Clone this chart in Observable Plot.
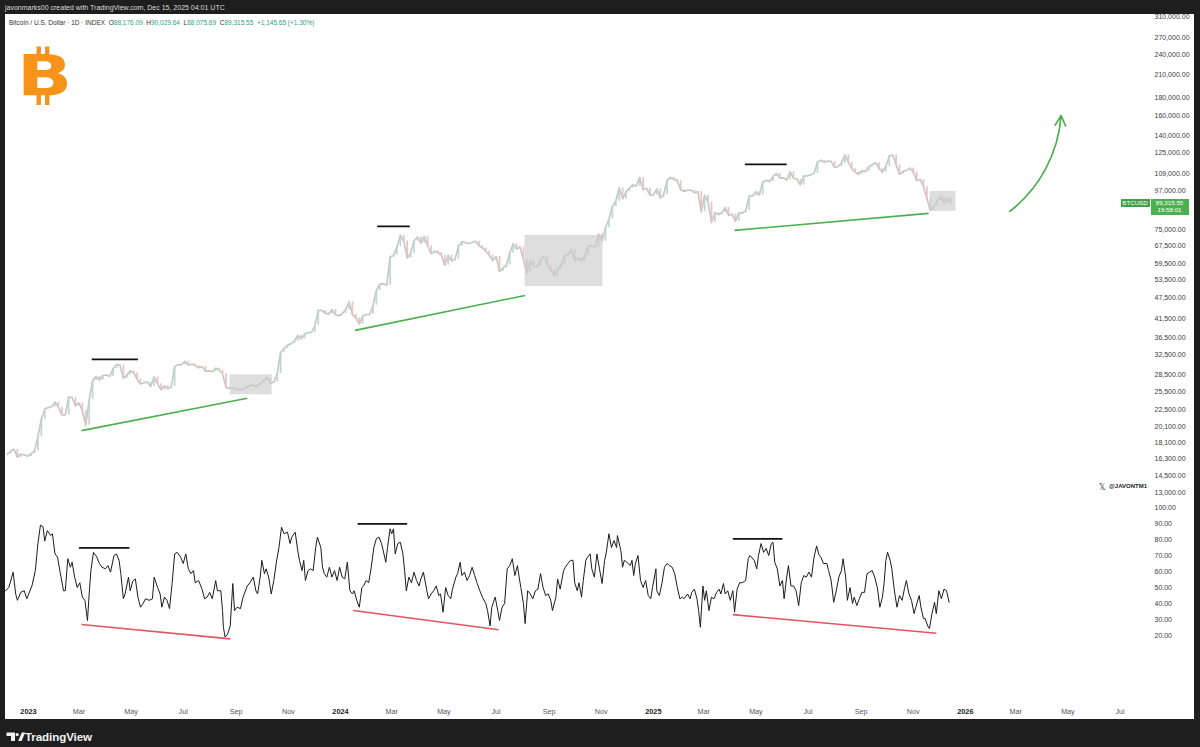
<!DOCTYPE html>
<html><head><meta charset="utf-8">
<script src="https://cdn.jsdelivr.net/npm/d3@7"></script>
<script src="https://cdn.jsdelivr.net/npm/@observablehq/plot@0.6"></script>
<style>
html,body{margin:0;padding:0;background:#1e1e1e;}
#frame{position:relative;width:1200px;height:747px;overflow:hidden;background:#1e1e1e;font-family:"Liberation Sans",Arial,sans-serif;}
#paper{position:absolute;left:5px;top:14px;width:1189px;height:705px;background:#fff;}
#topbar{position:absolute;left:5px;top:3px;font-size:7px;line-height:10px;color:#dcdcdc;white-space:nowrap;}
#legend{position:absolute;left:9px;top:18px;font-size:6.5px;line-height:9px;color:#333;white-space:nowrap;}
#legend .g{color:#2e9e84;}
#pricePane,#rsiPane{position:absolute;left:5px;}
#pricePane{top:14px;} #rsiPane{top:500px;}
.tag{position:absolute;color:#fff;font-size:6.2px;line-height:7.6px;text-align:center;white-space:nowrap;}
#handle{position:absolute;left:1109px;top:483px;font-size:6px;font-weight:bold;color:#222;white-space:nowrap;}
#footer{position:absolute;left:25px;top:730px;font-size:11.6px;font-weight:600;color:#f2f2f2;letter-spacing:-0.1px;}
#overlay{position:absolute;left:0;top:0;}
</style></head><body>
<div id="frame">
  <div id="paper"></div>
  <div id="topbar">javonmarks00 created with TradingView.com, Dec 15, 2025 04:01 UTC</div>
  <div id="pricePane"></div>
  <div id="rsiPane"></div>
  <div id="legend"></div>
  <div id="handle"></div>
  <div id="footer">TradingView</div>
  <svg id="overlay" width="1200" height="747"></svg>
</div>
<script>
// ---------- DATA ----------
// daily close sampled every 4 days, starting 2022-12-07
const closeStartDate = "2022-12-07";
const closeStepDays = 4;
const closes = [
16800,17100,17350,16440,16780,16700,16540,16850,17120,18850,
21180,22670,22920,23030,23730,22940,21800,21780,24570,24450,
23150,23640,22430,20360,24110,27420,28170,27490,28350,28460,
28170,29670,30490,30390,27820,28420,29250,28850,27690,26800,
27030,27120,26330,28070,26820,25760,26480,25930,26340,30090,
30480,30450,31160,30350,30620,30290,29860,30080,29180,29230,
29070,29760,29410,28700,26190,26050,26100,25870,25780,25830,
26230,26530,26580,26300,26910,27430,27950,26870,27160,28720,
33090,33920,34670,35070,35640,37060,36160,37360,37720,37820,
39470,43780,43720,43020,42660,43990,42520,42140,42850,43960,
46360,42510,41620,39880,42120,42580,42580,45290,49960,52120,
52280,51730,62430,63110,66850,72120,69460,61990,64040,69460,
71330,68500,71630,67200,63790,64940,64280,63110,59120,63160,
60790,61580,67040,69170,68520,68360,68810,69310,67320,66200,
64960,63180,60860,62680,56660,58050,59200,64100,68160,65780,
66800,61410,56030,60880,58730,58430,61180,62860,59050,57480,
54840,57650,59160,62950,63330,65790,60840,62060,60650,62850,
67420,67380,66640,72720,69370,75860,80470,87250,90540,98920,
91930,96410,98770,101150,100030,106140,97760,98670,94280,94420,
98320,92490,94520,104080,106150,104710,103730,97690,96610,97430,
97500,95770,96550,84350,94220,89960,78530,84000,82720,83830,
86900,82390,83150,79140,83760,83640,85070,93700,93750,96500,
94300,102970,104100,103200,106800,108900,105600,105800,104300,110200,
105500,104800,100900,107300,107100,108000,108900,117400,119000,117300,
118300,118000,113300,114100,116500,123300,117500,112500,110100,108400,
111200,110200,113900,115300,117100,112700,109700,114100,122300,123300,
115200,108200,110500,111000,112900,110100,103900,104700,99700,92200,
85100,87400,90800,93500,89400,92500,89316
];

// RSI(14): [days since 2023-01-01, value]
const rsiEpoch = "2023-01-01";
const rsiSamples = [
[-27,48],[-23,50],[-18,59.6],[-15,46],[-13,42],[-9,47],[-5,48],[-2,43],[4,51],[8,60.6],[11,77.5],[14,89],[17,88],[19,79],[22,85.6],[26,82.5],[28,83.6],[31,71],[34,69],[37,59.6],[41,48],[43,48],[46,68],[49,62.7],[51,65.8],[54,56.5],[57,50],[60,53],[63,44],[66,42],[69,29.4],[71,46],[73,60.6],[76,72],[80,69],[83,65],[86,62.7],[90,61.7],[93,63.7],[96,59.6],[100,70],[103,71],[106,67],[108,58.7],[111,43],[113,46],[117,56.5],[119,48],[122,54],[125,55.4],[128,44],[131,37.7],[134,40],[137,43],[141,42],[145,43],[147,56.5],[151,50],[154,46],[156,37.7],[159,44],[162,42],[165,36.8],[168,52.5],[171,71],[174,72],[178,69],[181,65],[184,71],[187,61.7],[190,58.7],[193,60.6],[195,53],[199,54.4],[203,49],[206,43],[209,44],[212,47],[215,43],[219,54.4],[221,48],[225,48],[227,35.6],[228,25.2],[230,19],[233,21],[236,26],[239,52.5],[241,35.6],[244,37.7],[248,36.8],[251,44],[256,51],[259,53],
[263,56.5],[266,48],[268,46],[271,56.5],[273,67],[276,58.7],[278,61.7],[281,56.5],[284,46],[287,54.4],[290,65.8],[293,75],[296,87.7],[299,83.6],[303,84.6],[306,77.5],[308,81.5],[312,84.6],[315,73],[317,67],[320,60.6],[322,67],[324,54.4],[327,60.6],[330,61.7],[333,60.6],[336,75],[338,81.5],[342,75],[344,62.7],[346,58.7],[349,56.5],[352,62.7],[355,56.5],[358,60.6],[361,54.4],[364,62.7],[367,56.5],[370,55.4],[373,65.8],[376,48],[379,46],[381,48],[384,42],[387,37.7],[390,50],[392,51],[395,54.4],[398,53],[401,62.7],[404,75],[407,80.6],[410,81.5],[413,77.5],[415,73],[418,65.8],[420,75],[423,86.7],[425,83.6],[427,86.7],[429,71],[432,77.5],[435,78.3],[438,71],[440,60.6],[442,48],[445,56.5],[448,53],[451,59.6],[454,54.4],[457,51],[459,55.4],[462,59.6],[466,48],[468,43],[471,46],[474,48],[477,51],[480,45],[482,46],[485,34.6],[488,50],[491,45],[494,43],[496,49],[500,56.5],[502,58.7],[505,65.8],[507,57.5],[510,59.6],[513,54.4],[516,57.5],[519,62.7],[522,57.5],[525,52.5],[528,48],[531,44],[535,40],[537,35.6],[540,26],[542,37.7],[546,44],[549,35.6],[551,29.4],
[554,37.7],[557,40],[560,61.7],[563,63.7],[566,68],[569,57.5],[572,63.7],[574,56.5],[576,50],[579,40],[581,27.5],[584,48],[587,46],[590,43],[593,48],[596,49],[599,58.7],[602,50],[605,45],[608,46],[611,42],[613,35.6],[617,44],[619,55.4],[622,49],[626,60.6],[628,62.7],[631,65],[634,67],[637,67],[639,53],[642,48],[644,53],[647,44],[649,54.4],[652,67],[654,69],[657,71],[659,61.7],[662,56.5],[665,71],[668,61.7],[671,52.5],[674,67],[676,72],[679,83.6],[682,75],[685,79.4],[688,75],[689,82.5],[693,73],[695,62.7],[697,67],[700,65.8],[704,63.7],[706,67],[708,57.5],[710,65],[713,70],[716,54.4],[719,50],[722,54.4],[725,45],[728,43],[730,50],[734,61.7],[735,48],[738,45],[741,52.5],[744,62.7],[747,65],[750,63.7],[753,62.7],[756,58.7],[759,50],[762,43],[765,44],[767,43],[771,46],[774,43],[776,47],[779,49],[782,43],[784,35.6],[786,25.2],[789,51],[791,42],[793,48],[796,35.6],[799,44],[802,43],[805,47],[808,49],[810,46],[813,52.5],[815,46],[818,48],[821,42],[824,48],[826,34.6],[829,49],[832,53],[835,53],[839,54.4],[842,68],[844,70],
[849,67],[852,61.7],[854,70],[857,77.5],[860,72],[863,74.4],[866,70],[869,77.5],[871,78.3],[873,65.8],[876,61.7],[879,51],[882,54.4],[884,43],[887,56.5],[889,63.7],[892,51],[895,51],[898,48],[901,38.7],[904,53],[907,57.5],[910,56.5],[913,59.6],[916,56.5],[919,69],[922,76],[925,70],[927,69],[930,65],[934,65],[936,60.6],[939,54.4],[942,40.8],[945,48],[948,56.5],[951,60.6],[953,68],[956,56.5],[958,42],[961,50],[964,40],[966,44],[969,38.7],[972,43],[975,47],[978,47],[981,58.7],[984,59.6],[987,60.6],[990,56.5],[993,50],[996,37.7],[999,44],[1001,53],[1003,67],[1005,72],[1008,67],[1010,61.7],[1013,48],[1016,37.7],[1019,45],[1022,42],[1025,50],[1027,54.4],[1030,46],[1033,42],[1036,33.7],[1038,37.7],[1042,45],[1044,37.7],[1047,30.6],[1049,30.6],[1052,26],[1054,24.4],[1057,33.7],[1060,40.8],[1062,33.7],[1065,48],[1068,43],[1071,49],[1074,48],[1077,40.8]
];

const priceTicks = [310000,270000,240000,210000,180000,160000,140000,125000,109000,97000,75000,67500,59500,53500,47500,41500,36500,32500,28500,25500,22500,20100,18100,16300,14500,13000];
const rsiTicks = [100,90,80,70,60,50,40,30,20];
const yearTicks = ["2023-01-01","2024-01-01","2025-01-01","2026-01-01"];
const monthTicks = ["2023-03-01","2023-05-01","2023-07-01","2023-09-01","2023-11-01",
  "2024-03-01","2024-05-01","2024-07-01","2024-09-01","2024-11-01",
  "2025-03-01","2025-05-01","2025-07-01","2025-09-01","2025-11-01",
  "2026-03-01","2026-05-01","2026-07-01"];

// annotations (dates, values)
const priceHighs = [
  {a:"2023-03-16", b:"2023-05-09", v:31550},
  {a:"2024-02-13", b:"2024-03-22", v:76550},
  {a:"2025-04-18", b:"2025-06-06", v:115700}];
const priceSupports = [
  {a:"2023-03-04", va:19640, b:"2023-09-14", vb:24370},
  {a:"2024-01-18", va:38290, b:"2024-08-04", vb:48330},
  {a:"2025-04-06", va:74560, b:"2025-11-19", vb:83500}];
const consolidationBoxes = [
  {a:"2023-08-25", b:"2023-10-13", lo:24930, hi:28490},
  {a:"2024-08-04", b:"2024-11-03", lo:51300, hi:72100},
  {a:"2025-11-21", b:"2025-12-21", lo:84620, hi:96640}];
const projection = [{a:"2026-02-22", va:84600, b:"2026-04-23", vb:160300}];
const rsiHighs = [
  {a:"2023-03-01", b:"2023-04-29", v:74.8},
  {a:"2024-01-21", b:"2024-03-19", v:89.8},
  {a:"2025-04-04", b:"2025-06-01", v:80.4}];
const rsiLows = [
  {a:"2023-03-04", va:26.9, b:"2023-08-25", vb:17.9},
  {a:"2024-01-16", va:35.6, b:"2024-07-04", vb:23.6},
  {a:"2025-04-04", va:33.1, b:"2025-11-28", vb:21.4}];

const legendParts = [["Bitcoin / U.S. Dollar · 1D · INDEX  ",""],["O","88,176.09"],["  H","90,029.64"],["  L","88,075.69"],["  C","89,315.55"],["  ","+1,145.65 (+1.30%)"]];
const lastPrice = 89315.55, lastPriceText = "89,315.55", countdown = "19:58:01", symbol = "BTCUSD";

// ---------- BUILD ----------
const DAY = 864e5;
const P = s => new Date(s);
const start = +P(closeStartDate);
const candles = closes.map((c,i)=>({date:new Date(start + i*closeStepDays*DAY), open: i ? closes[i-1] : c, close:c}));
const epoch = +P(rsiEpoch);
const rsi = rsiSamples.map(([d,v])=>({date:new Date(epoch + d*DAY), v}));
const xDomain = [new Date(epoch - 26.9*DAY), new Date(epoch + 1312.6*DAY)];

const font = {background:"transparent", fontFamily:"'Liberation Sans', Arial, sans-serif", overflow:"visible"};
const green = "#4caf50", red = "#e25563";

const pricePlot = Plot.plot({
  width:1189, height:486, marginLeft:0, marginRight:44, marginTop:0, marginBottom:0,
  style: font,
  x:{type:"utc", domain:xDomain, axis:null},
  y:{type:"log", domain:[12327, 314200], axis:null},
  marks:[
    Plot.axisY({anchor:"right", ticks:priceTicks, tickSize:0, tickPadding:4, label:null,
      tickFormat:d3.format(",.2f"), fill:"#3c3c3c", fontSize:7}),
    Plot.line(candles, {x:"date", y:"close", stroke:"#c6c6c6", strokeWidth:1.6}),
    Plot.ruleX(candles, {x:"date", y1:"open", y2:"close",
      stroke:d=> d.close>=d.open ? "#b9d6cd" : "#e8bfc2", strokeWidth:1.8, strokeOpacity:0.9}),
    Plot.rect(consolidationBoxes, {x1:d=>P(d.a), x2:d=>P(d.b), y1:"lo", y2:"hi", fill:"#cccccc", fillOpacity:0.65}),
    Plot.link(priceSupports, {x1:d=>P(d.a), y1:"va", x2:d=>P(d.b), y2:"vb", stroke:green, strokeWidth:1.6}),
    Plot.link(priceHighs, {x1:d=>P(d.a), y1:"v", x2:d=>P(d.b), y2:"v", stroke:"#111", strokeWidth:1.8}),
    Plot.arrow(projection, {x1:d=>P(d.a), y1:"va", x2:d=>P(d.b), y2:"vb", bend:-24, stroke:green, strokeWidth:1.7, headLength:10, headAngle:55})
  ]
});
document.getElementById("pricePane").appendChild(pricePlot);

const rsiPlot = Plot.plot({
  width:1189, height:219, marginLeft:0, marginRight:44, marginTop:0, marginBottom:19,
  style: font,
  x:{type:"utc", domain:xDomain, axis:null},
  y:{domain:[-20.6, 104.4], axis:null},
  marks:[
    Plot.axisY({anchor:"right", ticks:rsiTicks, tickSize:0, tickPadding:4, label:null,
      tickFormat:d=>d.toFixed(2), fill:"#3c3c3c", fontSize:7}),
    Plot.axisX({ticks:monthTicks.map(P), tickSize:0, tickPadding:8, label:null,
      tickFormat:d3.utcFormat("%b"), fill:"#555", fontSize:7.2}),
    Plot.axisX({ticks:yearTicks.map(P), tickSize:0, tickPadding:8, label:null,
      tickFormat:d3.utcFormat("%Y"), fill:"#222", fontSize:7.4, fontWeight:"bold"}),
    Plot.line(rsi, {x:"date", y:"v", stroke:"#1c1c1c", strokeWidth:1}),
    Plot.link(rsiHighs, {x1:d=>P(d.a), y1:"v", x2:d=>P(d.b), y2:"v", stroke:"#111", strokeWidth:1.8}),
    Plot.link(rsiLows, {x1:d=>P(d.a), y1:"va", x2:d=>P(d.b), y2:"vb", stroke:red, strokeWidth:1.6})
  ]
});
document.getElementById("rsiPane").appendChild(rsiPlot);

// legend text
const lg = document.getElementById("legend");
legendParts.forEach(([k,v])=>{
  const a=document.createElement("span"); a.textContent=k; lg.appendChild(a);
  const b=document.createElement("span"); b.className="g"; b.textContent=v; lg.appendChild(b);
});
lg.innerHTML = lg.innerHTML.replace(/  /g,"&nbsp;&nbsp;");

// last price tags positioned via price scale
const py = 14 + pricePlot.scale("y").apply(lastPrice);
const frame = document.getElementById("frame");
const t1 = document.createElement("div"); t1.className="tag";
Object.assign(t1.style,{left:"1120.5px", top:(py-4.2)+"px", width:"29px", height:"8px", lineHeight:"8px", background:"#43a047"});
t1.textContent = symbol; frame.appendChild(t1);
const t2 = document.createElement("div"); t2.className="tag";
Object.assign(t2.style,{left:"1150.5px", top:(py-4.2)+"px", width:"38px", height:"16px", background:green});
t2.innerHTML = lastPriceText + "<br>" + countdown; frame.appendChild(t2);

document.getElementById("handle").textContent = "@JAVONTM1";

// overlay decorations
const ov = d3.select("#overlay");
const logo = ov.append("g").attr("fill","#f7931a");
logo.append("text").attr("transform","translate(17,96) scale(1.27,1)").attr("font-family","DejaVu Sans").attr("font-weight","bold").attr("font-size",57).text("B");
[[36.5,46.5],[45,46.5],[36.5,95],[45,95]].forEach(([x,y])=>logo.append("rect").attr("x",x).attr("y",y).attr("width",4.4).attr("height",10));
ov.append("text").attr("x",1099).attr("y",490).attr("font-family","DejaVu Sans").attr("font-size",8).attr("fill","#222").text("𝕏");
const tv = ov.append("g").attr("fill","#f2f2f2");
tv.append("path").attr("d","M6.5 732.5h8.5v8.5h-4v-5h-4.5z");
tv.append("circle").attr("cx",17.2).attr("cy",734.6).attr("r",1.6);
tv.append("path").attr("d","M18.2 741l3.6-8.5h3.4l-3.6 8.5z");
</script>
</body></html>
